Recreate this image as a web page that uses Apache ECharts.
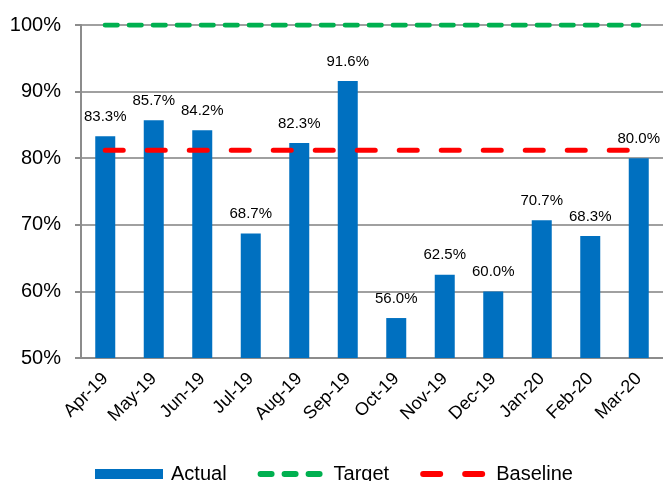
<!DOCTYPE html>
<html>
<head>
<meta charset="utf-8">
<script src="https://cdn.jsdelivr.net/npm/echarts@6/dist/echarts.min.js"></script>
<style>
  html, body { margin: 0; padding: 0; background: #fff; }
  #chart { width: 663px; height: 481px; }
</style>
</head>
<body>
<div id="chart"></div>
<script>
const months = ["Apr-19", "May-19", "Jun-19", "Jul-19", "Aug-19", "Sep-19", "Oct-19", "Nov-19", "Dec-19", "Jan-20", "Feb-20", "Mar-20"];
const actual = [83.3, 85.7, 84.2, 68.7, 82.3, 91.6, 56.0, 62.5, 60.0, 70.7, 68.3, 80.0];
const target = [100, 100, 100, 100, 100, 100, 100, 100, 100, 100, 100, 100];
const baseline = [81.2, 81.2, 81.2, 81.2, 81.2, 81.2, 81.2, 81.2, 81.2, 81.2, 81.2, 81.2];

const font = "Arial, 'Liberation Sans', sans-serif";

// rounded dash for legend icons, inside a 68x10 box
function dash(x, len) {
  return "M" + (x + 3) + ",2h" + (len - 6) + "a3,3 0 0 1 0,6h-" + (len - 6) + "a3,3 0 0 1 0,-6z";
}
const anchors = "M0,0h0.01v0.01h-0.01zM67.99,9.99h0.01v0.01h-0.01z";
const targetIcon = "path://" + anchors + dash(0, 17) + dash(24, 17) + dash(48, 17);
const baselineIcon = "path://" + anchors + dash(0, 23) + dash(42, 23);

const chart = echarts.init(document.getElementById("chart"));

chart.setOption({
  animation: false,
  textStyle: { fontFamily: font, color: "#000" },
  grid: { left: 81, top: 25, right: -2, bottom: 123, containLabel: false },
  legend: {
    top: 464,
    left: 95,
    padding: 0,
    itemWidth: 68,
    itemHeight: 10,
    itemGap: 31,
    textStyle: { fontSize: 20, color: "#000", fontFamily: font, padding: [0, 0, 0, 3] },
    data: [
      { name: "Actual", icon: "rect" },
      { name: "Target", icon: targetIcon },
      { name: "Baseline", icon: baselineIcon }
    ]
  },
  xAxis: {
    type: "category",
    data: months,
    axisLine: { lineStyle: { color: "#8c8c8c", width: 2 } },
    axisTick: { alignWithLabel: false, length: 6, lineStyle: { color: "#8c8c8c", width: 2 } },
    axisLabel: { rotate: 45, fontSize: 18, color: "#000", margin: 18, interval: 0 }
  },
  yAxis: {
    type: "value",
    min: 50,
    max: 100,
    interval: 10,
    axisLine: { show: true, lineStyle: { color: "#8c8c8c", width: 2 } },
    axisTick: { show: true, length: 6, lineStyle: { color: "#8c8c8c", width: 2 } },
    splitLine: { lineStyle: { color: "#a0a0a0", width: 2 } },
    axisLabel: { fontSize: 20, color: "#000", margin: 20, formatter: "{value}%" }
  },
  series: [
    {
      name: "Actual",
      type: "bar",
      data: actual,
      barWidth: 20,
      itemStyle: { color: "#0070C0" },
      label: {
        show: true,
        position: "top",
        distance: 12,
        fontSize: 15,
        color: "#000",
        formatter: p => p.value.toFixed(1) + "%"
      }
    },
    {
      name: "Target",
      type: "line",
      data: target,
      symbol: "none",
      color: "#00B050",
      lineStyle: { color: "#00B050", width: 5, type: [12, 12], cap: "round" },
      z: 3
    },
    {
      name: "Baseline",
      type: "line",
      data: baseline,
      symbol: "none",
      color: "#FF0000",
      lineStyle: { color: "#FF0000", width: 5, type: [18, 24], cap: "round" },
      z: 4
    }
  ]
});
</script>
</body>
</html>
